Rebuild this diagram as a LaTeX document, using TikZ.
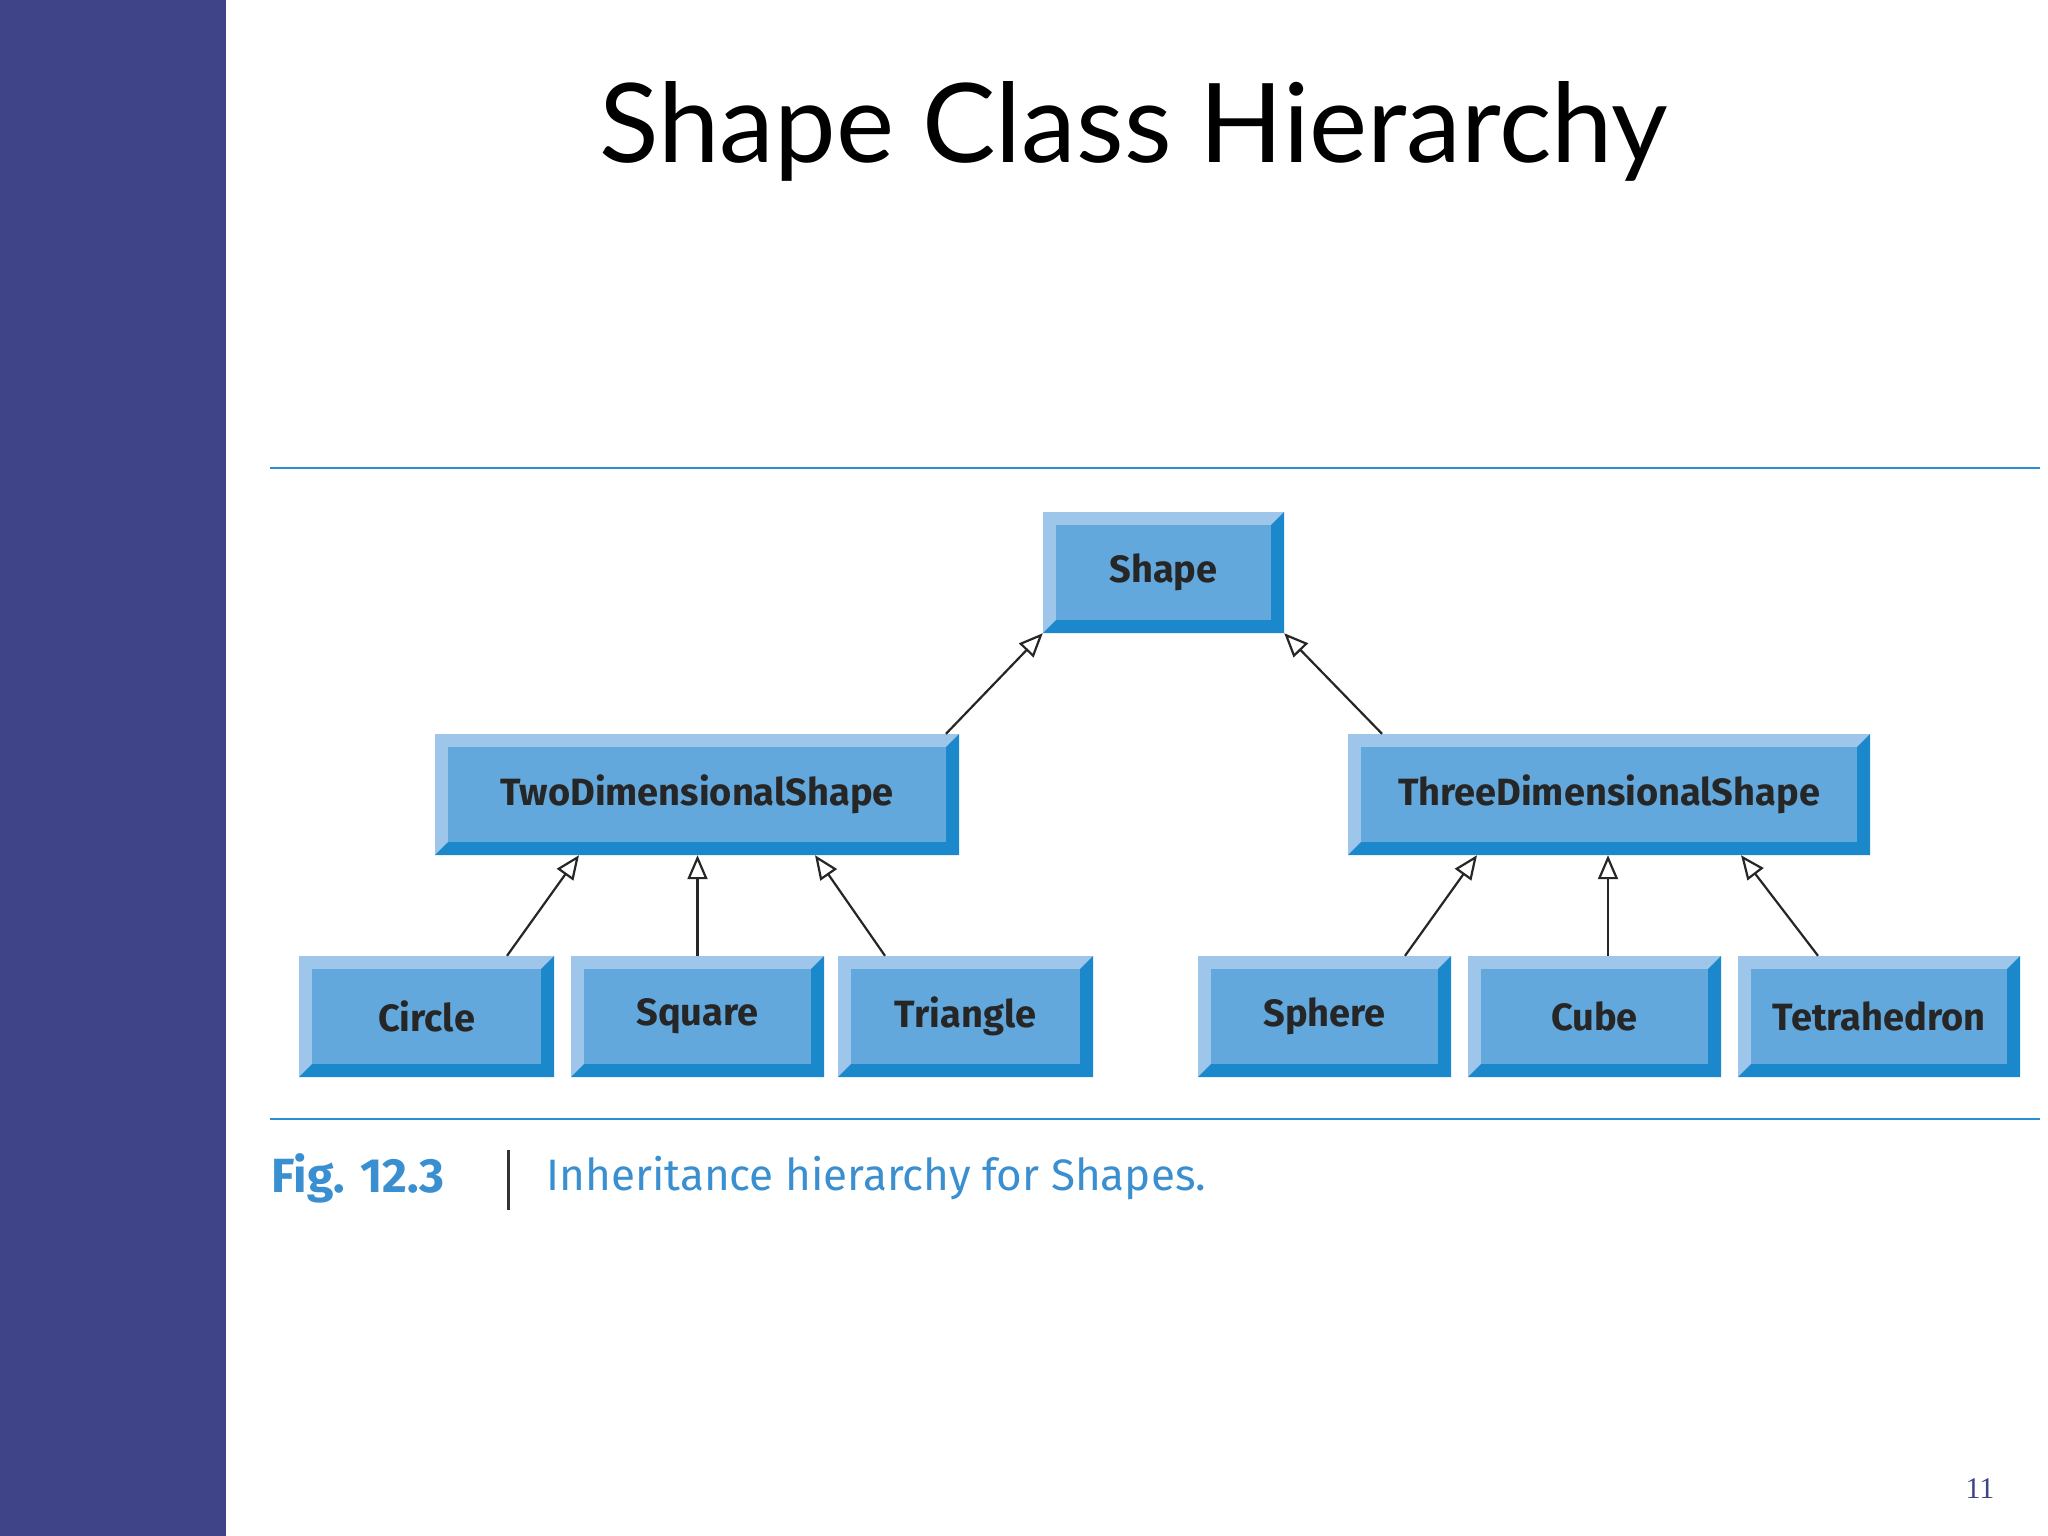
\documentclass[tikz,border=0pt]{standalone}
\usepackage{fontspec}
\setmainfont{Lato}
\newfontfamily\boxfont{Fira Sans}
\newfontfamily\pgfont{Liberation Serif}
\usetikzlibrary{arrows.meta,calc}
\definecolor{band}{HTML}{3F4489}
\definecolor{rule}{HTML}{2A8FD2}
\definecolor{bLight}{HTML}{9DC6EA}
\definecolor{bMid}{HTML}{62A8DC}
\definecolor{bDark}{HTML}{1A88CB}
\definecolor{capblue}{HTML}{3A8FD0}
\newcommand\bevbox[6]{%
  \fill[bLight] (#2,#3) rectangle (#4,#5);
  \fill[bDark] (#4,#3) -- (#4,#5) -- (#2,#5) -- ($(#2,#5)+(13,-13)$) -- ($(#4,#5)+(-13,-13)$) -- ($(#4,#3)+(-13,13)$) -- cycle;
  \fill[bMid] ($(#2,#3)+(13,13)$) rectangle ($(#4,#5)+(-13,-13)$);
  \node[boxtext, minimum width={(#4-#2)*1pt}, minimum height={(#5-#3)*1pt}] (#1) at ({(#2+#4)/2},{(#3+#5)/2}) {#6};
}
\tikzset{
  boxtext/.style={inner sep=0pt, font=\boxfont\fontsize{38}{44}\selectfont\bfseries, text=black!85},
  inh/.style={draw=black!85, line width=2.2pt, -{Triangle[open, length=24pt, width=20pt, line width=2.2pt]}}
}
\begin{document}
\begin{tikzpicture}[x=1pt,y=-1pt]
\useasboundingbox (0,0) rectangle (2048,1536);
\fill[white] (0,0) rectangle (2048,1536);
\fill[band] (0,0) rectangle (226,1536);
\node[font=\fontsize{110}{120}\selectfont] (title) at (1134,131) {Shape Class Hierarchy};
\draw[rule, line width=2.5pt] (270,468) -- (2040,468);
\draw[rule, line width=2.5pt] (270,1119) -- (2040,1119);
\bevbox{shape}{1043}{512}{1284}{633}{Shape}
\bevbox{two}{435}{734}{959}{855}{TwoDimensionalShape}
\bevbox{three}{1348}{734}{1870}{855}{ThreeDimensionalShape}
\bevbox{circle}{299}{956}{554}{1077}{Circle}
\bevbox{square}{571}{956}{824}{1077}{Square}
\bevbox{triangle}{838}{956}{1093}{1077}{Triangle}
\bevbox{sphere}{1198}{956}{1451}{1077}{Sphere}
\bevbox{cube}{1468}{956}{1721}{1077}{Cube}
\bevbox{tetra}{1738}{956}{2020}{1077}{Tetrahedron}
\draw[inh] ([xshift=249pt]two.north) -- (shape.south west);
\draw[inh] ([xshift=-227pt]three.north) -- (shape.south east);
\draw[inh] ([xshift=80.5pt]circle.north) -- ([xshift=-118pt]two.south);
\draw[inh] (square.north) -- (square.north |- two.south);
\draw[inh] ([xshift=-80.5pt]triangle.north) -- ([xshift=118pt]two.south);
\draw[inh] ([xshift=80.5pt]sphere.north) -- ([xshift=-132pt]three.south);
\draw[inh] ([xshift=13.5pt]cube.north) -- ([xshift=-1pt]three.south);
\draw[inh] ([xshift=-61pt]tetra.north) -- ([xshift=132pt]three.south);
\node[anchor=west, font=\boxfont\fontsize{48}{56}\selectfont\bfseries, text=capblue] (fig) at (268,1178) {Fig. 12.3};
\draw[black!80, line width=3pt] (508,1150) -- (508,1210);
\node[anchor=west, font=\boxfont\fontsize{44}{52}\selectfont, text=capblue] (cap) at (543,1178) {Inheritance hierarchy for Shapes.};
\node[font=\pgfont\fontsize{30}{36}\selectfont, text=band] (pg) at (1980,1489) {11};
\end{tikzpicture}
\end{document}
